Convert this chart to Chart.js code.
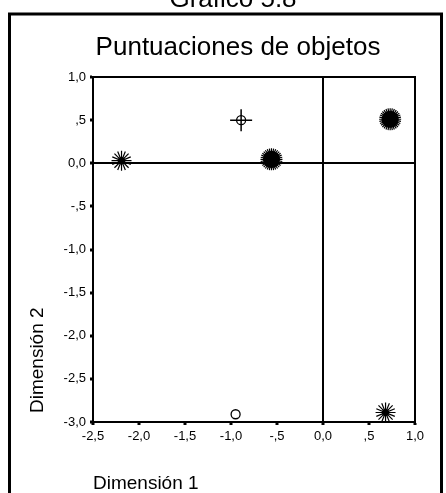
<!DOCTYPE html>
<html>
<head>
<meta charset="utf-8">
<script src="https://cdn.jsdelivr.net/npm/chart.js@4"></script>
<style>
  body { margin: 0; background: #fff; }
  canvas { display: block; }
</style>
</head>
<body>
<canvas id="myChart" width="446" height="493"></canvas>
<script>
// object scores
const dimension1 = [-2.19, -0.89, -0.56, 0.73, -0.95, 0.68];
const dimension2 = [0.03, 0.50, 0.045, 0.51, -2.91, -2.89];
// how each point is marked: star = asterisk, dense = several objects piled up
const markerTypes = ['star', 'circleCross', 'dense', 'dense', 'circle', 'star'];

const xTicks = [-2.5, -2.0, -1.5, -1.0, -0.5, 0.0, 0.5, 1.0];
const xTickLabels = ['-2,5', '-2,0', '-1,5', '-1,0', '-,5', '0,0', ',5', '1,0'];
const yTicks = [-3.0, -2.5, -2.0, -1.5, -1.0, -0.5, 0.0, 0.5, 1.0];
const yTickLabels = ['-3,0', '-2,5', '-2,0', '-1,5', '-1,0', '-,5', '0,0', ',5', '1,0'];

const FONT = "'Liberation Sans', Arial, sans-serif";

function pointsOf(types) {
  var pts = [];
  for (var i = 0; i < dimension1.length; i++) {
    if (types.includes(markerTypes[i])) {
      pts.push({ x: dimension1[i], y: dimension2[i], kind: markerTypes[i] });
    }
  }
  return pts;
}

function layer(types, style, rotation, radius, extra) {
  return Object.assign({
    data: pointsOf(types),
    showLine: false,
    pointStyle: style,
    pointRotation: rotation,
    pointRadius: radius,
    pointHoverRadius: radius,
    pointBorderColor: '#000',
    pointBackgroundColor: '#000',
    pointBorderWidth: 1.2
  }, extra || {});
}

// asterisk size depends on kind
var starRadius = function(ctx) {
  return ctx.raw && ctx.raw.kind === 'dense' ? 11 : 10;
};

var datasets = [
  layer(['circleCross'], 'cross', 0, 11, { pointBorderWidth: 1.5 }),
  layer(['circleCross', 'circle'], 'circle', 0, 4.5, { pointBackgroundColor: '#fff', pointBorderWidth: 1.3 }),
  layer(['star', 'dense'], 'star', 0, starRadius),
  layer(['star', 'dense'], 'star', 22.5, starRadius),
  layer(['dense'], 'star', 11.25, 11),
  layer(['dense'], 'star', 33.75, 11),
  layer(['dense'], 'circle', 0, 8),
  layer(['star'], 'circle', 0, 3)
];

const decorations = {
  id: 'decorations',
  beforeDraw(chart) {
    var ctx = chart.ctx;
    ctx.save();
    ctx.fillStyle = '#fff';
    ctx.fillRect(0, 0, chart.width, chart.height);
    ctx.restore();
  },
  afterDraw(chart) {
    var ctx = chart.ctx;
    var a = chart.chartArea;
    ctx.save();
    ctx.strokeStyle = '#000';

    // plot box, top and right sides
    ctx.lineWidth = 2;
    ctx.beginPath();
    ctx.moveTo(a.left, a.top);
    ctx.lineTo(a.right, a.top);
    ctx.lineTo(a.right, a.bottom);
    ctx.stroke();

    // outer frame, runs off the bottom of the page
    ctx.lineWidth = 3;
    ctx.strokeRect(9.5, 14, 432, 520);

    ctx.fillStyle = '#000';
    ctx.textAlign = 'center';
    ctx.textBaseline = 'alphabetic';
    ctx.font = '26px ' + FONT;
    ctx.fillText('Gráfico 5.8', 233, 7);
    ctx.fillText('Puntuaciones de objetos', 238, 55);

    ctx.font = '19px ' + FONT;
    ctx.textAlign = 'left';
    ctx.fillText('Dimensión 1', 93, 489);

    ctx.translate(43, 413);
    ctx.rotate(-Math.PI / 2);
    ctx.fillText('Dimensión 2', 0, 0);
    ctx.restore();
  }
};

function zeroLine(ctx) {
  return ctx.tick && ctx.tick.value === 0 ? '#000' : 'rgba(0,0,0,0)';
}

var ctx = document.getElementById('myChart').getContext('2d');
var myChart = new Chart(ctx, {
  type: 'scatter',
  data: { datasets: datasets },
  options: {
    responsive: false,
    animation: false,
    events: [],
    layout: { padding: { left: 0, top: 77, right: 31, bottom: 0 } },
    plugins: {
      legend: { display: false },
      title: { display: false },
      tooltip: { enabled: false }
    },
    scales: {
      x: {
        type: 'linear',
        min: -2.5,
        max: 1.0,
        afterBuildTicks: function(scale) {
          scale.ticks = xTicks.map(function(v) { return { value: v }; });
        },
        afterFit: function(scale) { scale.height = 71; },
        border: { color: '#000', width: 2 },
        grid: {
          color: zeroLine,
          lineWidth: 2,
          drawTicks: true,
          tickLength: 3,
          tickWidth: 3,
          tickColor: '#000'
        },
        ticks: {
          color: '#000',
          padding: 4,
          maxRotation: 0,
          autoSkip: false,
          font: { family: FONT, size: 13 },
          callback: function(value, index) { return xTickLabels[index]; }
        }
      },
      y: {
        type: 'linear',
        min: -3.0,
        max: 1.0,
        afterBuildTicks: function(scale) {
          scale.ticks = yTicks.map(function(v) { return { value: v }; });
        },
        afterFit: function(scale) { scale.width = 93; },
        border: { color: '#000', width: 2 },
        grid: {
          color: zeroLine,
          lineWidth: 2,
          drawTicks: true,
          tickLength: 3,
          tickWidth: 3,
          tickColor: '#000'
        },
        ticks: {
          color: '#000',
          padding: 4,
          autoSkip: false,
          font: { family: FONT, size: 13 },
          callback: function(value, index) { return yTickLabels[index]; }
        }
      }
    }
  },
  plugins: [decorations]
});
</script>
</body>
</html>
